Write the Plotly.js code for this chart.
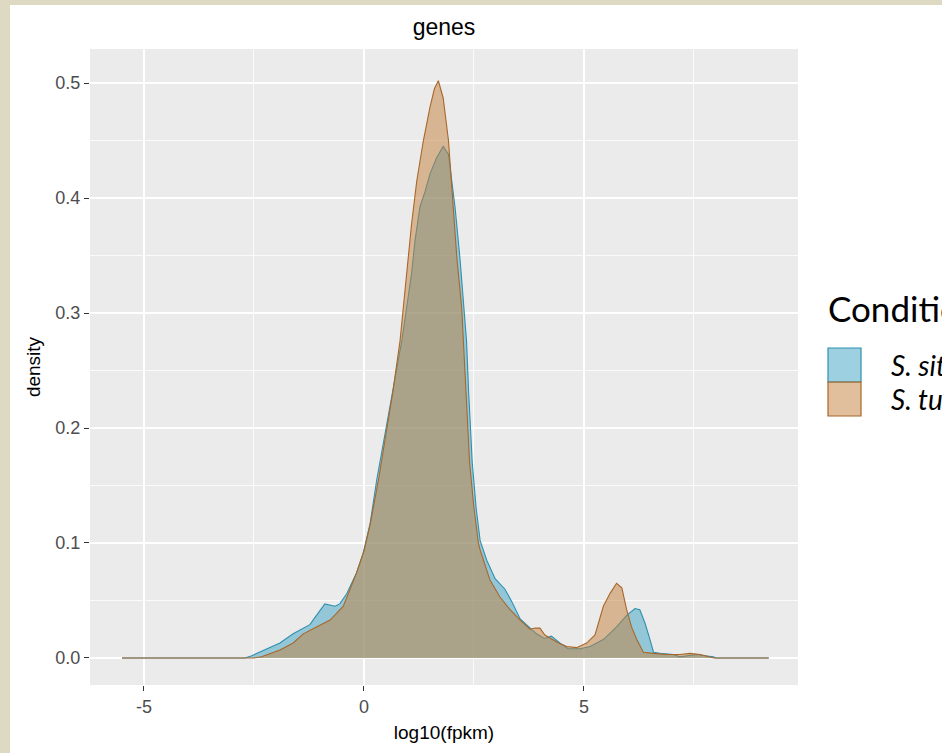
<!DOCTYPE html>
<html>
<head>
<meta charset="utf-8">
<script src="https://cdn.plot.ly/plotly-3.0.1.min.js"></script>
<style>
  html, body { margin: 0; padding: 0; width: 942px; height: 753px; overflow: hidden; background: #DDD9C3; }
  #chart { position: absolute; left: 10px; top: 5px; width: 932px; height: 748px; background: #ffffff; }
</style>
</head>
<body>
<div id="chart"></div>
<script>
// ---- data ----
const groupNames = ['S. sitiens', 'S. tuberosum'];
const legendTitle = 'Condition';

const xS = [-5.5, -2.7, -2.55, -2.2, -1.91, -1.61, -1.23, -1.08, -0.89, -0.66, -0.55, -0.39, -0.17, -0.02, 0.14, 0.29, 0.45, 0.6, 0.75, 0.86, 0.97, 1.08, 1.16, 1.27, 1.39, 1.5, 1.65, 1.8, 1.92, 1.99, 2.07, 2.18, 2.26, 2.33, 2.38, 2.46, 2.55, 2.64, 2.79, 2.98, 3.2, 3.36, 3.55, 3.77, 3.92, 4.1, 4.26, 4.45, 4.64, 4.91, 5.14, 5.44, 5.74, 5.97, 6.16, 6.27, 6.39, 6.5, 6.58, 6.73, 7.03, 7.18, 7.4, 7.56, 7.75, 7.94, 8.0, 9.2];
const yS = [0, 0, 0.002, 0.008, 0.013, 0.021, 0.029, 0.037, 0.047, 0.045, 0.047, 0.056, 0.074, 0.091, 0.117, 0.155, 0.19, 0.222, 0.255, 0.276, 0.305, 0.334, 0.363, 0.392, 0.406, 0.421, 0.435, 0.445, 0.438, 0.415, 0.392, 0.348, 0.305, 0.276, 0.23, 0.17, 0.13, 0.102, 0.085, 0.069, 0.06, 0.049, 0.034, 0.026, 0.021, 0.017, 0.019, 0.013, 0.008, 0.008, 0.01, 0.016, 0.027, 0.037, 0.043, 0.042, 0.03, 0.016, 0.005, 0.004, 0.003, 0.001, 0.002, 0.003, 0.002, 0.001, 0, 0];

const xT = [-5.5, -2.5, -2.33, -1.91, -1.61, -1.38, -1.08, -0.77, -0.47, -0.32, -0.17, 0.0, 0.15, 0.33, 0.5, 0.65, 0.82, 0.89, 1.01, 1.08, 1.2, 1.35, 1.5, 1.6, 1.69, 1.8, 1.92, 2.03, 2.11, 2.22, 2.26, 2.32, 2.4, 2.5, 2.6, 2.64, 2.86, 3.09, 3.32, 3.55, 3.77, 3.89, 4.0, 4.11, 4.23, 4.42, 4.61, 4.83, 5.06, 5.25, 5.44, 5.59, 5.74, 5.86, 5.97, 6.08, 6.2, 6.35, 6.58, 6.88, 7.18, 7.41, 7.64, 7.86, 7.95, 9.2];
const yT = [0, 0, 0.001, 0.007, 0.013, 0.021, 0.027, 0.033, 0.045, 0.059, 0.074, 0.093, 0.118, 0.155, 0.195, 0.23, 0.276, 0.305, 0.348, 0.377, 0.415, 0.45, 0.479, 0.495, 0.502, 0.487, 0.45, 0.392, 0.348, 0.305, 0.276, 0.23, 0.17, 0.13, 0.1, 0.094, 0.068, 0.053, 0.042, 0.033, 0.025, 0.026, 0.026, 0.02, 0.017, 0.013, 0.01, 0.009, 0.013, 0.02, 0.045, 0.056, 0.065, 0.061, 0.042, 0.027, 0.016, 0.005, 0.004, 0.003, 0.003, 0.004, 0.003, 0.001, 0, 0];

const xTickVals = [-5, 0, 5];
const xTickText = ['-5', '0', '5'];
const yTickVals = [0, 0.1, 0.2, 0.3, 0.4, 0.5];
const yTickText = ['0.0', '0.1', '0.2', '0.3', '0.4', '0.5'];
const xMinorVals = [-2.5, 2.5, 7.5];
const yMinorVals = [0.05, 0.15, 0.25, 0.35, 0.45];

// ---- styles ----
const fillColors = ['rgba(59,163,195,0.5)', 'rgba(196,128,60,0.5)'];
const lineColors = ['#2f8fae', '#a8672a'];
const chartFont = 'Liberation Sans, Arial, sans-serif';
const legendFont = 'Lato, Open Sans, sans-serif';

// page-pixel geometry of the panel (div is offset 10,5)
const OX = 10, OY = 5;
const PL = 90, PR = 798, PT = 49, PB = 685;
const px = p => (p - PL) / (PR - PL);
const py = p => (PB - p) / (PB - PT);

const traces = [
  { x: xS, y: yS, name: groupNames[0], type: 'scatter', mode: 'lines', fill: 'tozeroy',
    fillcolor: fillColors[0], line: { color: lineColors[0], width: 1.1 }, hoverinfo: 'skip' },
  { x: xT, y: yT, name: groupNames[1], type: 'scatter', mode: 'lines', fill: 'tozeroy',
    fillcolor: fillColors[1], line: { color: lineColors[1], width: 1.1 }, hoverinfo: 'skip' }
];

// manual legend (cropped at the right edge as in the reference)
const keyL = 828, keyR = 861, keyH = 34, keyTop = 348, textX = 889;
const shapes = [], annotations = [];
annotations.push({ xref: 'paper', yref: 'paper', x: px(826), y: py(308), xanchor: 'left', yanchor: 'middle',
  text: legendTitle, showarrow: false, font: { family: legendFont, size: 35, color: '#000' } });
groupNames.forEach((g, i) => {
  const t = keyTop + i * keyH;
  shapes.push({ type: 'rect', xref: 'paper', yref: 'paper', x0: px(keyL), x1: px(keyR), y0: py(t), y1: py(t + keyH),
    fillcolor: fillColors[i], line: { color: lineColors[i], width: 1.2 } });
  annotations.push({ xref: 'paper', yref: 'paper', x: px(textX), y: py(t + keyH / 2), xanchor: 'left', yanchor: 'middle',
    text: '<i>' + g + '</i>', showarrow: false, font: { family: legendFont, size: 28, color: '#000' } });
});

const layout = {
  width: 932, height: 748,
  margin: { l: PL - OX, r: 932 - (PR - OX), t: PT - OY, b: 748 - (PB - OY), pad: 0 },
  paper_bgcolor: '#ffffff',
  plot_bgcolor: '#EBEBEB',
  showlegend: false,
  title: { text: 'genes', font: { family: chartFont, size: 23, color: '#000' },
    x: 0.5, xref: 'paper', xanchor: 'center', y: 1 - (27 - OY) / 748, yref: 'container', yanchor: 'middle' },
  xaxis: {
    range: [-6.227, 9.864], tickvals: xTickVals, ticktext: xTickText,
    ticks: 'outside', ticklen: 5, tickwidth: 1, tickcolor: '#333333',
    tickfont: { family: chartFont, size: 18, color: '#4d4d4d' },
    showgrid: true, gridcolor: '#ffffff', gridwidth: 1.6, zeroline: false, showline: false,
    minor: { tickvals: xMinorVals, showgrid: true, gridcolor: '#ffffff', gridwidth: 0.8, ticks: '' },
    title: { text: 'log10(fpkm)', font: { family: chartFont, size: 19, color: '#000' }, standoff: 10 }
  },
  yaxis: {
    range: [-0.0235, 0.5296], tickvals: yTickVals, ticktext: yTickText,
    ticks: 'outside', ticklen: 5, tickwidth: 1, tickcolor: '#333333',
    tickfont: { family: chartFont, size: 18, color: '#4d4d4d' },
    showgrid: true, gridcolor: '#ffffff', gridwidth: 1.6, zeroline: false, showline: false,
    minor: { tickvals: yMinorVals, showgrid: true, gridcolor: '#ffffff', gridwidth: 0.8, ticks: '' },
    title: { text: 'density', font: { family: chartFont, size: 19, color: '#000' }, standoff: 9 }
  },
  shapes: shapes,
  annotations: annotations
};

Plotly.newPlot('chart', traces, layout, { staticPlot: true, displayModeBar: false });
</script>
</body>
</html>
